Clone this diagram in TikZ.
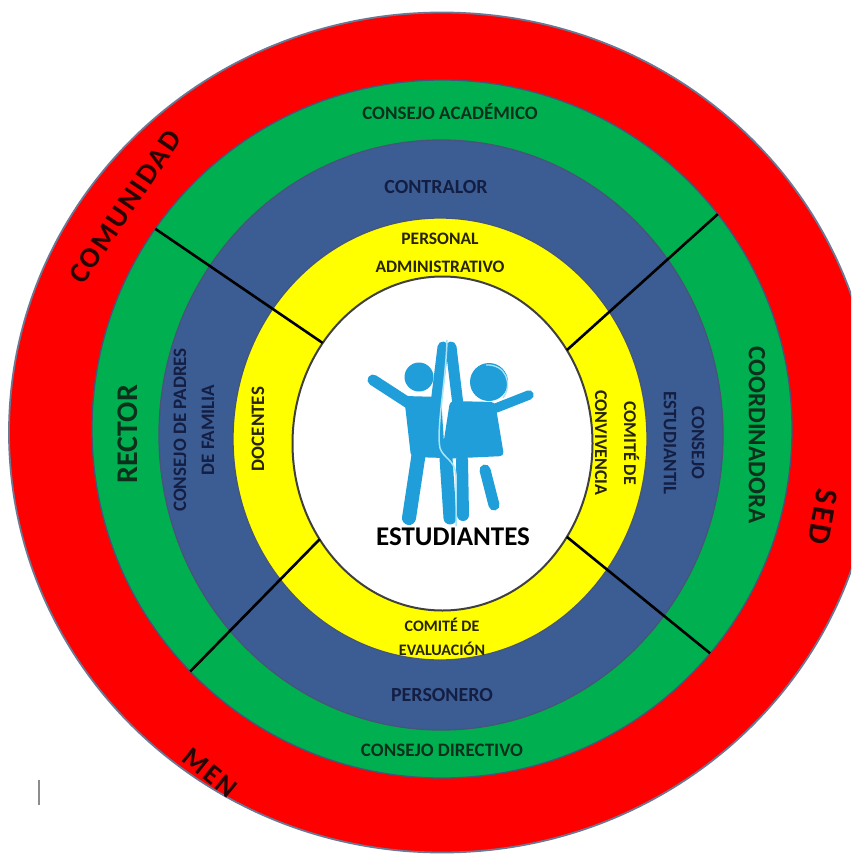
\documentclass[tikz,border=0pt]{standalone}
\usepackage{fontspec}
\setmainfont{Carlito}
\usetikzlibrary{calc}

\definecolor{ringred}{RGB}{255,0,0}
\definecolor{ringgreen}{RGB}{0,176,80}
\definecolor{ringblue}{RGB}{59,93,148}
\definecolor{ringyellow}{RGB}{255,255,0}
\definecolor{rimgray}{RGB}{70,85,120}
\definecolor{kidblue}{RGB}{32,158,218}
\definecolor{kidline}{RGB}{170,228,248}
\definecolor{txtred}{RGB}{40,5,5}
\definecolor{txtgreen}{RGB}{12,48,28}
\definecolor{txtblue}{RGB}{20,30,66}
\definecolor{txtyellow}{RGB}{40,36,0}

\newcommand{\lblsize}[1]{\fontsize{#1}{#1}\selectfont}

\begin{document}
\begin{tikzpicture}[x=1pt,y=-1pt,
    ring/.style={fill=#1,draw=rimgray,line width=1.3pt},
    lbl/.style={font=\bfseries\lblsize{#1},inner sep=0pt,align=center},
    widelbl/.style={font=\bfseries\lblsize{#1}\addfontfeature{LetterSpace=8},inner sep=0pt,text=txtred},
    divider/.style={line width=2.6pt,black},
    limb/.style={kidblue,line width=#1,line cap=round}]
  \useasboundingbox (0,0) rectangle (851,861);
  \fill[white] (0,0) rectangle (851,861);
  \clip (0,0) rectangle (851,861);
  % rings, from the outside in
  \coordinate (cred) at (442,432.5);
  \coordinate (cgreen) at (442,429);
  \coordinate (cblue) at (441,435);
  \coordinate (cyellow) at (440,439);
  \coordinate (cwhite) at (442.5,443.5);
  \filldraw[ring=ringred,draw=rimgray!80,line width=1.8pt] (cred) ellipse [x radius=433,y radius=420];
  \filldraw[ring=ringgreen] (cgreen) ellipse [x radius=350,y radius=349];
  \filldraw[ring=ringblue] (cblue) ellipse [x radius=282,y radius=295];
  \filldraw[ring=ringyellow] (cyellow) ellipse [x radius=207,y radius=221];
  \filldraw[fill=white,draw=black!75,line width=2pt] (cwhite) ellipse [x radius=150,y radius=167];
  % dividers
  \foreach \a/\b [count=\i] in {-143/-145,-34/-38,145/136,34/40} {
    \coordinate (in\i) at ($(cwhite)+(\a:150 and 167)$);
    \coordinate (out\i) at ($(cgreen)+(\b:350 and 349)$);
    \draw[divider] (in\i) -- (out\i);
  }
  % kids
  \fill[kidblue] (419,377) circle [radius=14.5];
  \fill[kidblue,rounded corners=4pt] (404,396) -- (441,397) -- (445,458) -- (411,457) -- cycle;
  \draw[limb=11pt] (410,404) -- (373,380);
  \draw[limb=11pt] (436,404) -- (443,347);
  \draw[limb=14pt] (419,452) -- (409,518);
  \draw[limb=13pt] (446,458) -- (450,518);
  \fill[kidblue] (489,382) circle [radius=19];
  \draw[kidline,line width=1.3pt] (486,365) .. controls (506,364) and (513,384) .. (503,398);
  \fill[kidblue,rounded corners=4pt] (450,401) -- (495,402) -- (504,456) -- (441,459) -- cycle;
  \draw[limb=11pt] (458,405) -- (451,347);
  \draw[limb=9.5pt] (496,408) -- (529,395);
  \draw[limb=12pt] (462,460) -- (463,515);
  \draw[limb=11pt] (485,470) -- (494,505);
  \draw[kidline,line width=1.5pt] (447,340) .. controls (446,380) and (436,430) .. (440,448)
    .. controls (443,458) and (455,460) .. (456,475) -- (456,526);
  % labels
  \node[lbl=19,text=txtgreen] (academico) at (450,112) {CONSEJO ACADÉMICO};
  \node[lbl=20,text=txtblue] (contralor) at (436,187) {CONTRALOR};
  \node[lbl=17.5,text=txtyellow] (personal) at (440,253) {PERSONAL\\[10pt]ADMINISTRATIVO};
  \node[lbl=27] (estudiantes) at (453,537) {ESTUDIANTES};
  \node[lbl=16,text=txtyellow] (evaluacion) at (442,637) {COMITÉ DE\\[8pt]EVALUACIÓN};
  \node[lbl=20,text=txtblue] (personero) at (442,695) {PERSONERO};
  \node[lbl=19,text=txtgreen] (directivo) at (442,750) {CONSEJO DIRECTIVO};
  \node[widelbl=29,rotate=56] (comunidad) at (125,207) {COMUNIDAD};
  \node[lbl=30,text=txtgreen,rotate=90] (rector) at (128,434) {RECTOR};
  \node[lbl=19,text=txtblue,rotate=90] (padres) at (194,430) {CONSEJO DE PADRES\\[9pt]DE FAMILIA};
  \node[lbl=19,text=txtyellow,rotate=90] (docentes) at (258,429) {DOCENTES};
  \node[lbl=18,text=txtyellow,rotate=-90] (convivencia) at (617,443) {COMITÉ DE\\[11pt]CONVIVENCIA};
  \node[lbl=19,text=txtblue,rotate=-90] (estudiantil) at (684,443) {CONSEJO\\[9pt]ESTUDIANTIL};
  \node[lbl=25,text=txtgreen,rotate=-90] (coordinadora) at (757,435) {COORDINADORA};
  \node[widelbl=32,rotate=-100] (sed) at (823,517) {SED};
  \node[widelbl=28,rotate=-39] (men) at (210,773) {MEN};
  % stray mark
  \draw[black!45,line width=1.2pt] (39,780) -- (39,805);
\end{tikzpicture}
\end{document}
